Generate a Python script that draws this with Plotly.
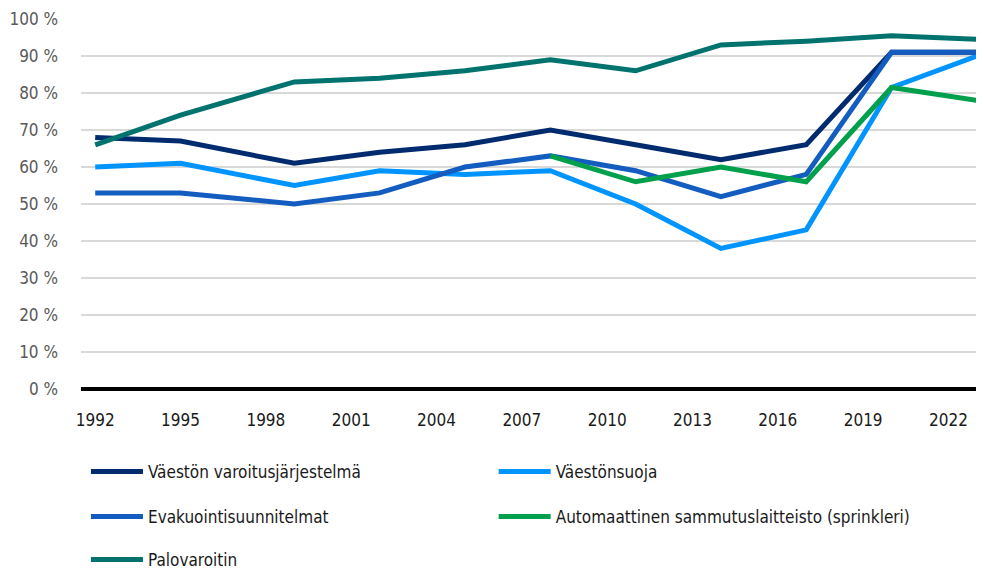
import plotly.graph_objects as go

years = [1992, 1995, 1999, 2002, 2005, 2008, 2011, 2014, 2017, 2020, 2023]
varoitus = [68, 67, 61, 64, 66, 70, 66, 62, 66, 91, 91]
vaestonsuoja = [60, 61, 55, 59, 58, 59, 50, 38, 43, 81.5, 90]
evakuointi = [53, 53, 50, 53, 60, 63, 59, 52, 58, 91, 91]
sprinkleri = [None, None, None, None, None, 63, 56, 60, 56, 81.5, 78]
palovaroitin = [66, 74, 83, 84, 86, 89, 86, 93, 94, 95.5, 94.5]

series_names = [
    "Väestön varoitusjärjestelmä",
    "Väestönsuoja",
    "Evakuointisuunnitelmat",
    "Automaattinen sammutuslaitteisto (sprinkleri)",
    "Palovaroitin",
]
series_values = [varoitus, vaestonsuoja, evakuointi, sprinkleri, palovaroitin]
colors = ["#002b6e", "#0094ff", "#135cc0", "#00a04c", "#00736f"]
legend_ids = ["legend", "legend2", "legend3", "legend4", "legend5"]
# legend grid: (column x, row y) in paper coordinates
legend_pos = [(0.0055, -0.224), (0.457, -0.224),
              (0.0055, -0.346), (0.457, -0.346),
              (0.0055, -0.462)]

x_ticks = list(range(1992, 2023, 3))
y_ticks = list(range(0, 101, 10))

FONT = "DejaVu Sans Condensed, Liberation Sans Narrow, Roboto, sans-serif"

fig = go.Figure()
for name, vals, col, lg in zip(series_names, series_values, colors, legend_ids):
    fig.add_trace(go.Scatter(
        x=years, y=vals, name=name, mode="lines",
        line=dict(color=col, width=5),
        connectgaps=False, legend=lg,
    ))

def leg(xc, yc):
    return dict(
        orientation="h",
        x=xc, xanchor="left",
        y=yc, yanchor="middle",
        font=dict(family=FONT, size=17, color="#1a1a1a"),
        itemwidth=52,
        bgcolor="rgba(0,0,0,0)",
    )

legends = {lid: leg(px, py) for lid, (px, py) in zip(legend_ids, legend_pos)}

# page body has an 8px margin; the figure is sized/offset to compensate
fig.update_layout(
    width=976, height=563,
    margin=dict(l=73, r=0, t=11, b=182, autoexpand=False),
    paper_bgcolor="white", plot_bgcolor="white",
    font=dict(family=FONT, size=17, color="#595959"),
    showlegend=True,
    **legends,
    xaxis=dict(
        range=[1991.5, 2023.25],
        tickmode="array", tickvals=x_ticks,
        ticktext=[str(t) for t in x_ticks],
        showgrid=False, zeroline=False,
        showline=False, automargin=False,
        ticks="", tickfont=dict(color="#1a1a1a", size=17),
        ticklabelstandoff=19,
    ),
    yaxis=dict(
        range=[0, 100],
        tickmode="array", tickvals=y_ticks,
        ticktext=[f"{t} %" for t in y_ticks],
        showgrid=True, gridcolor="#d9d9d9", gridwidth=1.5,
        zeroline=True, zerolinecolor="#000000", zerolinewidth=3.5,
        showline=False, ticks="", automargin=False,
        tickfont=dict(color="#595959", size=17),
        ticklabelstandoff=22,
    ),
)

fig.write_html("out.html")
